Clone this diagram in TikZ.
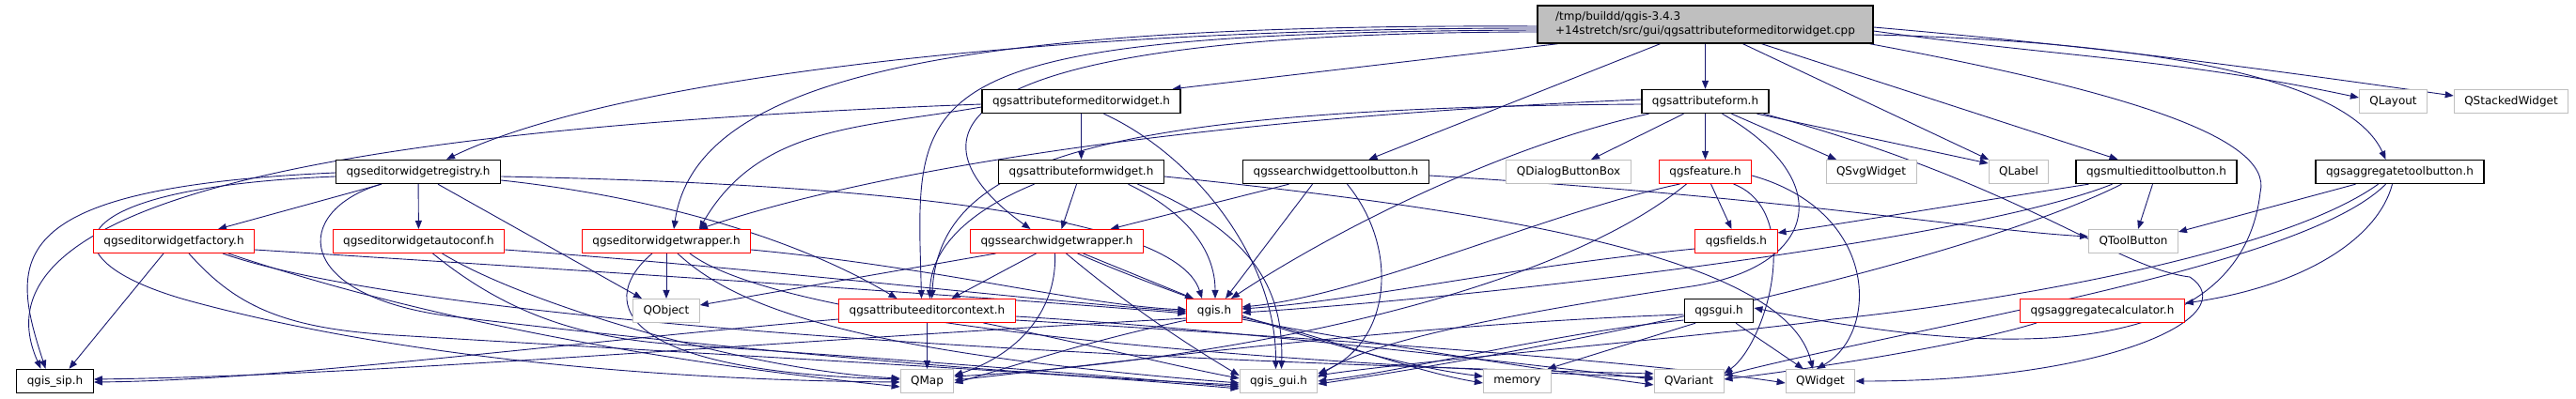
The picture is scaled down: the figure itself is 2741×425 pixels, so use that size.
\documentclass[tikz,border=0pt]{standalone}
\usepackage{fontspec}
\newfontfamily\dejavu{DejaVu Sans}
\usepackage{xcolor}
\usetikzlibrary{arrows.meta}
\definecolor{edgeblue}{HTML}{191970}
\definecolor{boxgray}{HTML}{BFBFBF}
\definecolor{cutred}{HTML}{FF0000}
\pgfdeclarelayer{bg}
\pgfsetlayers{bg,main}

\begin{document}
\begin{tikzpicture}[x=1pt, y=1pt,
    incbox/.style={rectangle, fill=white, minimum height=25pt, inner xsep=11pt, inner ysep=0pt,
                   font=\dejavu\fontsize{12}{15}\selectfont},
    docbox/.style={incbox, draw=black, line width=1.4pt},
    redbox/.style={incbox, draw=cutred, line width=1pt},
    extbox/.style={incbox, draw=boxgray, line width=1pt},
    incl/.style={edgeblue, line width=0.9pt, -{Triangle[length=9pt,width=7pt]}}]

    \useasboundingbox (0,0) rectangle (2741,425);

    % Row heights
    \def\yA{317}
    \def\yB{242}
    \def\yC{168}
    \def\yD{94}
    \def\yE{19}

    % The source file
    \node[docbox, fill=boxgray, align=left, minimum width=357pt, minimum height=40pt] (cpp) at (1814.5,399)
        {/tmp/buildd/qgis-3.4.3\\+14stretch/src/gui/qgsattributeformeditorwidget.cpp};

    % Row 1
    \node[docbox] (afew) at (1150.5,\yA) {qgsattributeformeditorwidget.h};
    \node[docbox] (af) at (1814.5,\yA) {qgsattributeform.h};
    \node[extbox] (qlayout) at (2546.5,\yA) {QLayout};
    \node[extbox] (qstacked) at (2672,\yA) {QStackedWidget};

    % Row 2
    \node[docbox] (reg) at (445,\yB) {qgseditorwidgetregistry.h};
    \node[docbox] (afw) at (1150.5,\yB) {qgsattributeformwidget.h};
    \node[docbox] (swtb) at (1421.5,\yB) {qgssearchwidgettoolbutton.h};
    \node[extbox] (qdbb) at (1669,\yB) {QDialogButtonBox};
    \node[redbox] (feat) at (1814.5,\yB) {qgsfeature.h};
    \node[extbox] (qsvg) at (1991,\yB) {QSvgWidget};
    \node[extbox] (qlabel) at (2148,\yB) {QLabel};
    \node[docbox] (metb) at (2294.5,\yB) {qgsmultiedittoolbutton.h};
    \node[docbox] (agtb) at (2553.5,\yB) {qgsaggregatetoolbutton.h};

    % Row 3
    \node[redbox] (fact) at (185,\yC) {qgseditorwidgetfactory.h};
    \node[redbox] (autoconf) at (445.5,\yC) {qgseditorwidgetautoconf.h};
    \node[redbox] (ewr) at (709,\yC) {qgseditorwidgetwrapper.h};
    \node[redbox] (swr) at (1124.5,\yC) {qgssearchwidgetwrapper.h};
    \node[redbox] (fields) at (1847.5,\yC) {qgsfields.h};
    \node[extbox] (qtoolbutton) at (2270,\yC) {QToolButton};

    % Row 4
    \node[extbox] (qobject) at (709,\yD) {QObject};
    \node[redbox] (ctx) at (986.5,\yD) {qgsattributeeditorcontext.h};
    \node[redbox] (qgis) at (1292,\yD) {qgis.h};
    \node[docbox] (gui) at (1829,\yD) {qgsgui.h};
    \node[redbox] (aggcalc) at (2237,\yD) {qgsaggregatecalculator.h};

    % Row 5
    \node[docbox] (sip) at (58.5,\yE) {qgis\_sip.h};
    \node[extbox] (qmap) at (986.5,\yE) {QMap};
    \node[extbox] (qgisgui) at (1360.5,\yE) {qgis\_gui.h};
    \node[extbox] (memory) at (1614.5,\yE) {memory};
    \node[extbox] (qvariant) at (1797,\yE) {QVariant};
    \node[extbox] (qwidget) at (1937,\yE) {QWidget};

    \begin{pgfonlayer}{bg}
    % from the .cpp file
    \draw[incl] ([xshift=-157]cpp.south) -- ([xshift=97]afew.north);
    \draw[incl] (cpp) -- (af);
    \draw[incl] ([xshift=-48]cpp.south) -- ([xshift=35]swtb.north);
    \draw[incl] ([xshift=40]cpp.south) -- ([xshift=-32]qlabel.north);
    \draw[incl] ([xshift=60]cpp.south) -- ([xshift=-41]metb.north);
    \draw[incl] ([yshift=-7]cpp.east) to[out=-8,in=168] ([yshift=4]qlayout.west);
    \draw[incl] ([yshift=-3]cpp.east) to[out=-5,in=172] ([yshift=6]qstacked.west);
    \draw[incl] ([yshift=-11]cpp.east) .. controls (2300,380) and (2500,340) .. ([xshift=-15]agtb.north);
    \draw[incl] ([xshift=175]cpp.south) .. controls (2250,330) and (2420,280) .. (2405,220)
        .. controls (2390,90) and (2250,19) .. ([yshift=3]gui.east);
    \draw[incl] ([yshift=-4]cpp.west) .. controls (1100,395) and (650,340) .. ([xshift=30]reg.north);
    \draw[incl] ([yshift=-2]cpp.west) .. controls (1000,400) and (740,340) .. ([xshift=8]ewr.north);
    \draw[incl] ([yshift=-8]cpp.west) .. controls (900,390) and (1000,250) .. ([xshift=-28]swr.north);
    \draw[incl] ([yshift=-6]cpp.west) .. controls (950,390) and (975,330) .. ([xshift=-6]ctx.north);

    % attribute form editor widget
    \draw[incl] (afew) -- (afw);
    \draw[incl] ([yshift=-3]afew.west) .. controls (400,290) and (-40,220) .. ([xshift=-15]sip.north);
    \draw[incl] ([yshift=-6]afew.west) to[out=190,in=60] ([xshift=35]ewr.north);
    \draw[incl] ([xshift=24]afew.south) .. controls (1270,260) and (1358,150) .. ([xshift=-3]qgisgui.north);

    % attribute form widget
    \draw[incl] ([xshift=-5]afw.south) -- ([xshift=5]swr.north);
    \draw[incl] ([xshift=-50]afw.south) .. controls (1030,200) and (990,160) .. ([xshift=3]ctx.north);
    \draw[incl] ([xshift=50]afw.south) .. controls (1260,200) and (1293,160) .. ([xshift=1]qgis.north);
    \draw[incl] ([xshift=60]afw.south) .. controls (1330,180) and (1366,120) .. ([xshift=3]qgisgui.north);
    \draw[incl] ([yshift=-5]afw.east) .. controls (1600,200) and (1900,150) .. ([xshift=-8]qwidget.north);

    % search widget tool button
    \draw[incl] ([xshift=-25]swtb.south) -- ([xshift=12]qgis.north);
    \draw[incl] ([xshift=12]swtb.south) .. controls (1490,160) and (1480,60) .. ([yshift=8]qgisgui.east);
    \draw[incl] ([yshift=-4]swtb.east) .. controls (1900,215) and (2100,180) .. ([yshift=5]qtoolbutton.west);
    \draw[incl] ([xshift=-50]swtb.south) -- ([xshift=57]swr.north);

    % attribute form
    \draw[incl] (af) -- (feat);
    \draw[incl] ([xshift=-23]af.south) -- ([xshift=24]qdbb.north);
    \draw[incl] ([xshift=28]af.south) -- ([xshift=-37]qsvg.north);
    \draw[incl] ([xshift=55]af.south) -- ([yshift=9]qlabel.west);
    \draw[incl] ([xshift=62]af.south) .. controls (2150,230) and (2250,140) .. (2330,130)
        .. controls (2390,90) and (2250,19) .. (qwidget.east);
    \draw[incl] ([xshift=-60]af.south) .. controls (1600,270) and (1420,180) .. ([xshift=18]qgis.north);
    \draw[incl] ([yshift=2]af.west) .. controls (1300,300) and (950,250) .. ([xshift=35]ewr.north);
    \draw[incl] ([yshift=-3]af.west) .. controls (1150,310) and (1000,250) .. ([xshift=5]ctx.north);
    \draw[incl] ([xshift=18]af.south) .. controls (1960,230) and (1930,140) .. (1800,120)
        .. controls (1600,90) and (1450,60) .. ([yshift=4]qgisgui.east);

    % feature and fields
    \draw[incl] ([xshift=6]feat.south) -- ([xshift=-5]fields.north);
    \draw[incl] ([xshift=-27]feat.south) .. controls (1650,200) and (1450,110) .. ([yshift=4]qgis.east);
    \draw[incl] ([xshift=-20]feat.south) .. controls (1650,110) and (1300,40) .. ([yshift=5]qmap.east);
    \draw[incl] ([xshift=30]feat.south) .. controls (1920,200) and (1880,60) .. ([yshift=8]qvariant.east);
    \draw[incl] ([yshift=-4]feat.east) .. controls (2000,200) and (2000,70) .. ([xshift=-4]qwidget.north);
    \draw[incl] ([yshift=-8]fields.west) .. controls (1600,140) and (1450,105) .. ([yshift=2]qgis.east);

    % gui
    \draw[incl] ([yshift=-4]gui.west) .. controls (1500,80) and (1200,40) .. ([yshift=1]qmap.east);
    \draw[incl] ([yshift=-10]gui.west) .. controls (1650,70) and (1500,30) .. (qgisgui.east);
    \draw[incl] ([xshift=-25]gui.south) -- ([xshift=32]memory.north);
    \draw[incl] ([xshift=18]gui.south) -- ([xshift=-18]qwidget.north);

    % multi edit tool button
    \draw[incl] ([xshift=-4]metb.south) -- ([xshift=5]qtoolbutton.north);
    \draw[incl] ([xshift=-72]metb.south) .. controls (2100,210) and (1950,185) .. ([yshift=9]fields.east);
    \draw[incl] ([xshift=-47]metb.south) .. controls (2100,170) and (1600,110) .. ([yshift=-2]qgis.east);
    \draw[incl] ([xshift=-37]metb.south) .. controls (2100,150) and (1700,60) .. ([yshift=-3]qgisgui.east);

    % aggregate tool button and calculator
    \draw[incl] ([xshift=-47]agtb.south) -- ([yshift=10]qtoolbutton.east);
    \draw[incl] ([xshift=-8]agtb.south) .. controls (2530,170) and (2450,120) .. ([yshift=8]aggcalc.east);
    \draw[incl] ([xshift=-23]agtb.south) .. controls (2420,150) and (2100,100) .. (1950,85)
        .. controls (1850,70) and (1500,40) .. ([yshift=6]qgisgui.east);
    \draw[incl] ([xshift=-15]agtb.south) .. controls (2450,140) and (2050,80) .. ([yshift=6]qvariant.east);
    \draw[incl] ([xshift=-70]aggcalc.south) .. controls (2100,60) and (1950,35) .. ([yshift=2]qvariant.east);

    % editor widget registry
    \draw[incl] ([xshift=-39]reg.south) -- ([xshift=47]fact.north);
    \draw[incl] (reg) -- (autoconf);
    \draw[incl] ([xshift=21]reg.south) -- ([xshift=-26]qobject.north);
    \draw[incl] ([yshift=-1]reg.west) .. controls (0,225) and (10,150) .. ([xshift=-10]sip.north);
    \draw[incl] ([yshift=-5]reg.west) .. controls (60,225) and (40,150) .. (200,105)
        .. controls (420,45) and (700,20) .. ([yshift=-1]qmap.west);
    \draw[incl] ([xshift=-40]reg.south) .. controls (310,200) and (310,110) .. (480,88)
        .. controls (800,50) and (1100,25) .. ([yshift=-4]qgisgui.west);
    \draw[incl] ([yshift=-5]reg.east) .. controls (900,230) and (1250,200) .. ([xshift=-13]qgis.north);
    \draw[incl] ([yshift=-9]reg.east) .. controls (700,215) and (850,170) .. ([xshift=-32]ctx.north);

    % editor widget factory
    \draw[incl] ([xshift=-11]fact.south) -- ([xshift=15]sip.north);
    \draw[incl] ([xshift=16]fact.south) .. controls (250,100) and (300,75) .. (420,68)
        .. controls (800,45) and (1100,30) .. ([yshift=-8]qgisgui.west);
    \draw[incl] ([xshift=52]fact.south) .. controls (450,80) and (1200,40) .. ([yshift=8]qvariant.west);
    \draw[incl] ([xshift=58]fact.south) .. controls (450,85) and (700,40) .. ([yshift=-6]qmap.west);
    \draw[incl] ([yshift=-9]fact.east) .. controls (700,132) and (1100,105) .. ([yshift=-3]qgis.west);

    % editor widget autoconf
    \draw[incl] ([yshift=-9]autoconf.east) .. controls (800,140) and (1100,105) .. ([yshift=-1]qgis.west);
    \draw[incl] ([xshift=15]autoconf.south) .. controls (540,90) and (620,65) .. (720,58)
        .. controls (1000,40) and (1200,22) .. ([yshift=-6]qgisgui.west);
    \draw[incl] ([xshift=25]autoconf.south) .. controls (560,100) and (800,30) .. ([yshift=3]qmap.west);

    % editor widget wrapper
    \draw[incl] (ewr) -- (qobject);
    \draw[incl] ([yshift=-9]ewr.east) .. controls (1000,140) and (1150,100) .. ([yshift=1]qgis.west);
    \draw[incl] ([xshift=-15]ewr.south) .. controls (640,110) and (640,30) .. ([yshift=2]qmap.west);
    \draw[incl] ([xshift=12]ewr.south) .. controls (780,100) and (900,50) .. ([yshift=-2]qgisgui.west);
    \draw[incl] ([xshift=25]ewr.south) .. controls (820,90) and (1200,45) .. ([yshift=4]qvariant.west);

    % search widget wrapper
    \draw[incl] ([xshift=-22]swr.south) -- ([xshift=26]ctx.north);
    \draw[incl] ([xshift=-65]swr.south) -- ([yshift=6]qobject.east);
    \draw[incl] ([xshift=28]swr.south) -- ([xshift=-22]qgis.north);
    \draw[incl] ([xshift=-2]swr.south) .. controls (1125,100) and (1090,50) .. ([yshift=6]qmap.east);
    \draw[incl] ([xshift=10]swr.south) .. controls (1200,100) and (1260,60) .. ([yshift=6]qgisgui.west);
    \draw[incl] ([xshift=22]swr.south) .. controls (1250,110) and (1450,40) .. ([yshift=5]memory.west);

    % attribute editor context
    \draw[incl] (ctx) -- (qmap);
    \draw[incl] ([xshift=60]ctx.south) .. controls (1150,60) and (1250,35) .. ([yshift=3]qgisgui.west);
    \draw[incl] ([yshift=-6]ctx.east) .. controls (1300,75) and (1600,40) .. ([yshift=2]qvariant.west);
    \draw[incl] ([yshift=-10]ctx.east) .. controls (1400,65) and (1750,40) .. ([yshift=-2]qwidget.west);
    \draw[incl] ([yshift=-9]ctx.west) .. controls (600,60) and (300,20) .. ([yshift=-1]sip.east);

    % qgis.h
    \draw[incl] ([yshift=-8]qgis.west) .. controls (800,60) and (400,25) .. ([yshift=2]sip.east);
    \draw[incl] ([yshift=-10]qgis.west) .. controls (1150,60) and (1080,35) .. ([yshift=-2]qmap.east);
    \draw[incl] ([yshift=-7]qgis.east) .. controls (1400,70) and (1500,30) .. ([yshift=-2]memory.west);
    \draw[incl] ([yshift=-9]qgis.east) .. controls (1450,60) and (1650,30) .. ([yshift=-4]qvariant.west);
    \end{pgfonlayer}

\end{tikzpicture}
\end{document}
